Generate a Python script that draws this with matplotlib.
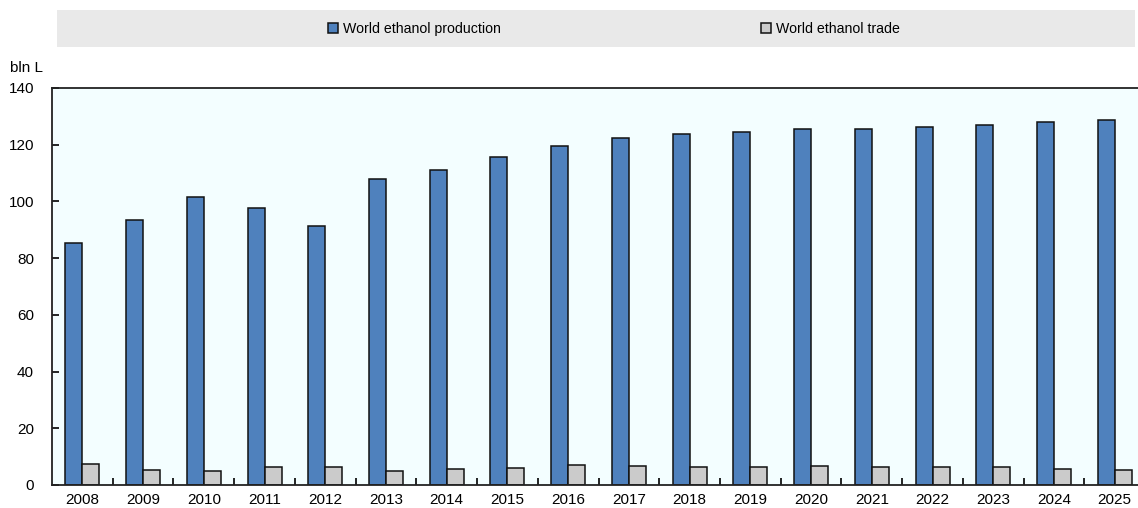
import numpy as np
import matplotlib.pyplot as plt
from matplotlib.patches import Rectangle

plt.rcParams['font.family'] = ['Liberation Sans Narrow', 'Liberation Sans', 'DejaVu Sans']

# dados (bln L)
years = [str(y) for y in range(2008, 2026)]
production = [85.3, 93.4, 101.5, 97.7, 91.3, 107.9, 111.0, 115.7, 119.5,
              122.4, 123.8, 124.5, 125.5, 125.5, 126.2, 126.9, 128.0, 128.7]
trade = [7.3, 5.3, 4.8, 6.2, 6.3, 4.9, 5.5, 6.0, 7.0,
         6.7, 6.5, 6.2, 6.7, 6.5, 6.2, 6.2, 5.8, 5.2]

fig = plt.figure(figsize=(11.38, 5.08), dpi=100)
ax = fig.add_axes([0.0457, 0.0453, 0.9605, 0.7815])
ax.set_facecolor('#f3feff')

x = np.arange(len(years))
w = 0.28
ax.bar(x - w / 2, production, w, color='#4f81bd', edgecolor='#111111', linewidth=1.1,
       label='World ethanol production')
ax.bar(x + w / 2, trade, w, color='#cbcbcb', edgecolor='#111111', linewidth=1.1,
       label='World ethanol trade')

ax.set_xlim(-0.5, len(years) - 0.5)
ax.set_ylim(0, 140)
ax.set_yticks(range(0, 141, 20))
ax.set_xticks(x)
ax.set_xticklabels(years)
ax.set_xticks(x[:-1] + 0.5, minor=True)
ax.tick_params(axis='x', which='major', length=0, labelsize=11, pad=6)
ax.tick_params(axis='x', which='minor', direction='in', length=5, width=1.2)
ax.tick_params(axis='y', direction='in', length=5, width=1.2, labelsize=11, pad=13)

for s in ['left', 'top', 'bottom']:
    ax.spines[s].set_linewidth(1.3)
    ax.spines[s].set_color('#222222')
ax.spines['right'].set_visible(False)

# faixa da legenda
fig.patches.append(Rectangle((57 / 1138, 1 - 47 / 508), (1135 - 57) / 1138, 37 / 508,
                             transform=fig.transFigure, facecolor='#e9e9e9',
                             edgecolor='none', zorder=0))
h, l = ax.get_legend_handles_labels()
fig.legend(h, l, loc='center', bbox_to_anchor=(0.5395, 0.943), ncol=2, frameon=False,
           fontsize=10.2, handlelength=0.75, handleheight=0.75, handletextpad=0.35,
           columnspacing=18.3)

fig.text(0.009, 0.858, 'bln L', fontsize=11)

plt.savefig('out.png', dpi=100)
